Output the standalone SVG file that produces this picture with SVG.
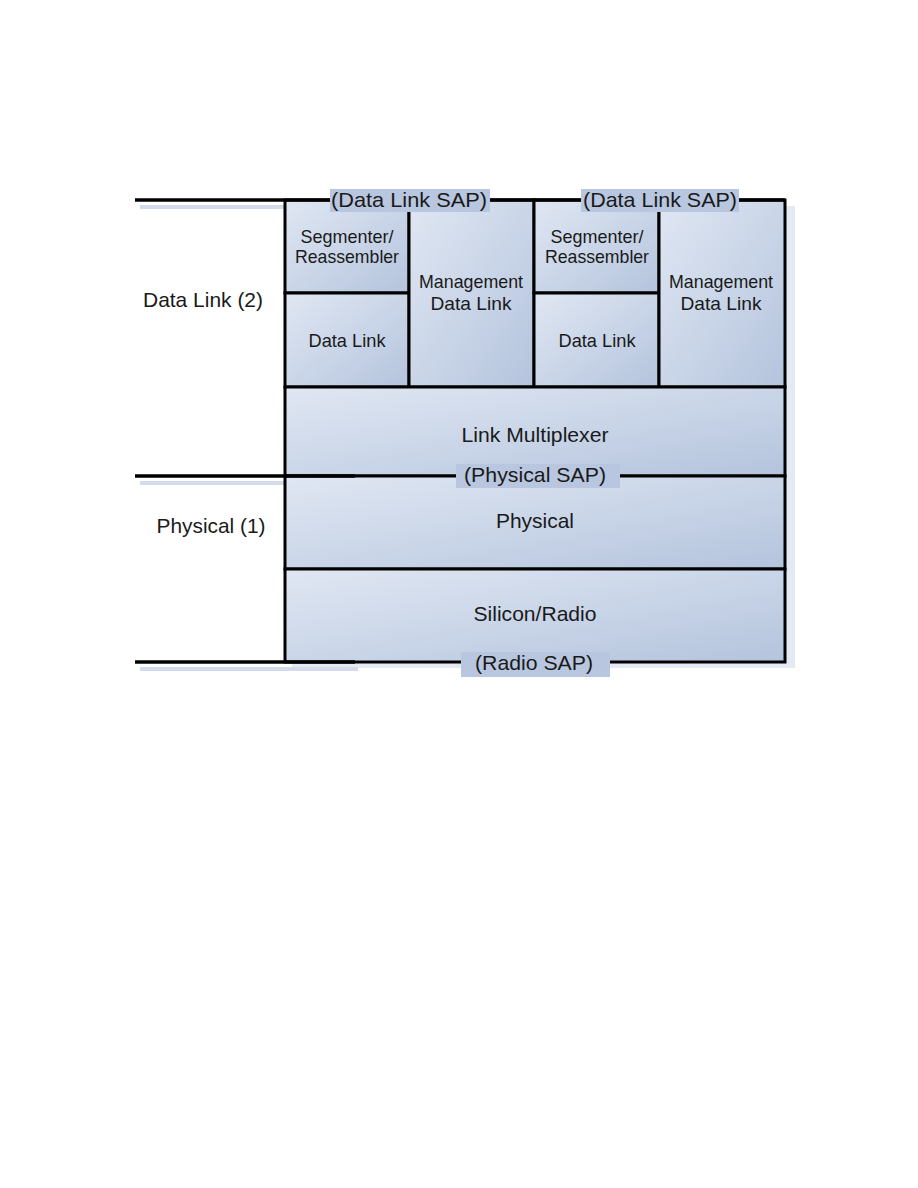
<svg xmlns="http://www.w3.org/2000/svg" width="918" height="1188" viewBox="0 0 918 1188">
<defs>
<linearGradient id="g" x1="0" y1="0" x2="1" y2="1">
<stop offset="0" stop-color="#e0e7f3"/>
<stop offset="1" stop-color="#b4c4dd"/>
</linearGradient>
<style>
.box{fill:url(#g);stroke:#000;stroke-width:3}
.sh{fill:#e4e9f3}
.ln{stroke:#000;stroke-width:3.5;fill:none}
.lsh{stroke:#d3dbea;stroke-width:4;fill:none}
.lab{fill:#b8c7df}
.t{font-family:"Liberation Sans",Arial,sans-serif;font-size:19px;fill:#1a1a1a;text-anchor:middle}
.tb{font-family:"Liberation Sans",Arial,sans-serif;font-size:21px;fill:#1a1a1a;text-anchor:middle}
</style>
</defs>
<rect width="918" height="1188" fill="#fff"/>
<g id="shadows">
<rect class="sh" x="292" y="206" width="503" height="462"/>
<line class="lsh" x1="140" y1="207" x2="285" y2="207"/>
<line class="lsh" x1="140" y1="483" x2="358" y2="483"/>
<line class="lsh" x1="140" y1="669" x2="358" y2="669"/>
</g>
<g id="seg1"><rect class="box" x="285" y="200" width="124" height="93"/><text class="t" x="347" y="243" textLength="93" lengthAdjust="spacingAndGlyphs">Segmenter/</text><text class="t" x="347" y="263" textLength="104" lengthAdjust="spacingAndGlyphs">Reassembler</text></g>
<g id="dl1"><rect class="box" x="285" y="293" width="124" height="94"/><text class="t" x="347" y="347" textLength="77" lengthAdjust="spacingAndGlyphs">Data Link</text></g>
<g id="mgmt1"><rect class="box" x="409" y="200" width="125" height="187"/><text class="t" x="471" y="288" textLength="104" lengthAdjust="spacingAndGlyphs">Management</text><text class="t" x="471" y="310" textLength="81" lengthAdjust="spacingAndGlyphs">Data Link</text></g>
<g id="seg2"><rect class="box" x="534" y="200" width="125" height="93"/><text class="t" x="597" y="243" textLength="93" lengthAdjust="spacingAndGlyphs">Segmenter/</text><text class="t" x="597" y="263" textLength="104" lengthAdjust="spacingAndGlyphs">Reassembler</text></g>
<g id="dl2"><rect class="box" x="534" y="293" width="125" height="94"/><text class="t" x="597" y="347" textLength="77" lengthAdjust="spacingAndGlyphs">Data Link</text></g>
<g id="mgmt2"><rect class="box" x="659" y="200" width="126" height="187"/><text class="t" x="721" y="288" textLength="104" lengthAdjust="spacingAndGlyphs">Management</text><text class="t" x="721" y="310" textLength="81" lengthAdjust="spacingAndGlyphs">Data Link</text></g>
<g id="linkmux"><rect class="box" x="285" y="387" width="500" height="89"/><text class="tb" x="535" y="442" textLength="147" lengthAdjust="spacingAndGlyphs">Link Multiplexer</text></g>
<g id="physical"><rect class="box" x="285" y="476" width="500" height="93"/><text class="tb" x="535" y="528" textLength="78" lengthAdjust="spacingAndGlyphs">Physical</text></g>
<g id="silicon"><rect class="box" x="285" y="569" width="500" height="93"/><text class="tb" x="535" y="621" textLength="123" lengthAdjust="spacingAndGlyphs">Silicon/Radio</text></g>
<g id="connectors">
<line class="ln" x1="135" y1="200" x2="785" y2="200"/>
<line class="ln" x1="135" y1="476" x2="355" y2="476"/>
<line class="ln" x1="135" y1="662" x2="355" y2="662"/>
</g>
<g id="sap-labels">
<rect class="lab" x="330" y="189" width="160" height="23"/>
<text class="tb" x="409" y="207" textLength="156" lengthAdjust="spacingAndGlyphs">(Data Link SAP)</text>
<rect class="lab" x="581" y="189" width="158" height="23"/>
<text class="tb" x="660" y="207" textLength="154" lengthAdjust="spacingAndGlyphs">(Data Link SAP)</text>
<rect class="lab" x="456" y="464" width="164" height="24"/>
<text class="tb" x="535" y="482" textLength="142" lengthAdjust="spacingAndGlyphs">(Physical SAP)</text>
<rect class="lab" x="461" y="652" width="149" height="25"/>
<text class="tb" x="534" y="670" textLength="118" lengthAdjust="spacingAndGlyphs">(Radio SAP)</text>
</g>
<g id="layer-labels">
<text class="tb" x="203" y="307" textLength="120" lengthAdjust="spacingAndGlyphs">Data Link (2)</text>
<text class="tb" x="211" y="533" textLength="109" lengthAdjust="spacingAndGlyphs">Physical (1)</text>
</g>
</svg>
